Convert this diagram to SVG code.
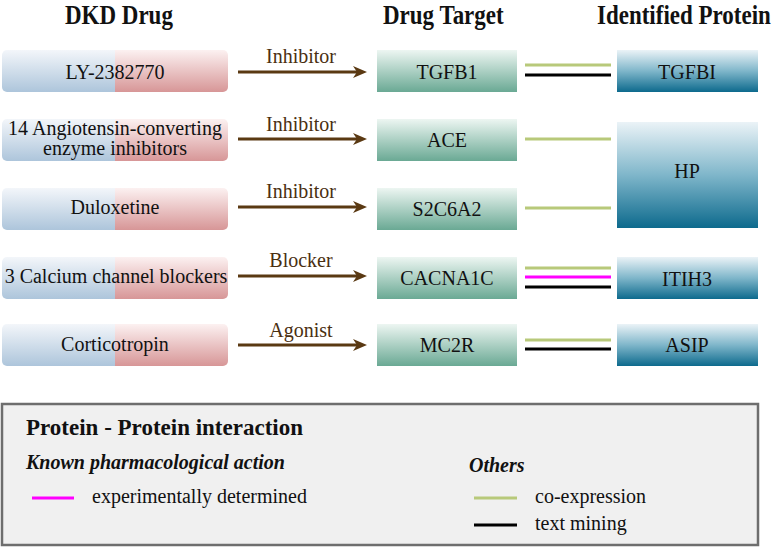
<svg xmlns="http://www.w3.org/2000/svg" width="777" height="548" viewBox="0 0 777 548">
<defs>
<linearGradient id="gBlue" x1="0" y1="0" x2="0" y2="1"><stop offset="0" stop-color="#f3f6fa"/><stop offset="1" stop-color="#adc5db"/></linearGradient>
<linearGradient id="gRed" x1="0" y1="0" x2="0" y2="1"><stop offset="0" stop-color="#fcf1f1"/><stop offset="1" stop-color="#d79697"/></linearGradient>
<linearGradient id="gTarget" x1="0" y1="0" x2="0" y2="1"><stop offset="0" stop-color="#edf6f2"/><stop offset="1" stop-color="#6aa994"/></linearGradient>
<linearGradient id="gProt" x1="0" y1="0" x2="0" y2="1"><stop offset="0" stop-color="#ebf3f7"/><stop offset="0.5" stop-color="#7fb6ca"/><stop offset="1" stop-color="#0d6a8d"/></linearGradient>
<clipPath id="rr" clipPathUnits="objectBoundingBox"><rect x="0" y="0" width="1" height="1" rx="0.022" ry="0.12"/></clipPath>
<marker id="ah" viewBox="0 0 14 12" refX="4" refY="6" markerWidth="14" markerHeight="12" markerUnits="userSpaceOnUse" orient="auto"><path d="M0,0 L14,6 L0,12 L4,6 Z" fill="#5a3912"/></marker>
</defs>
<style>
text{font-family:Liberation Serif,Tinos,DejaVu Serif,Noto Serif,serif;fill:#111}
.t{font-size:20px;text-anchor:middle}
.hd{font-size:23px;font-weight:bold}
.lab{font-size:20px;text-anchor:middle;fill:#4a2f10}
.arr{stroke:#5a3912;stroke-width:3;fill:none;marker-end:url(#ah)}
.co{stroke:#b8c97a;stroke-width:3}
.tm{stroke:#000;stroke-width:3}
.ex{stroke:#ff00ff;stroke-width:3}
.tg{fill:url(#gTarget)}
.pr{fill:url(#gProt)}
</style>
<rect width="777" height="548" fill="#fff"/>
<g id="headers" transform="translate(0 24) scale(1 1.2)">
<text class="hd" x="65" y="0">DKD Drug</text>
<text class="hd" x="383" y="0">Drug Target</text>
<text class="hd" x="597" y="0">Identified Protein</text>
</g>
<g id="drug1"><g clip-path="url(#rr)"><rect x="2" y="50" width="113" height="42" fill="url(#gBlue)"/><rect x="115" y="50" width="113" height="42" fill="url(#gRed)"/></g><text class="t" x="115" y="79">LY-2382770</text></g>
<g id="drug2"><g clip-path="url(#rr)"><rect x="2" y="119" width="113" height="42" fill="url(#gBlue)"/><rect x="115" y="119" width="113" height="42" fill="url(#gRed)"/></g><text class="t" x="115" y="135">14 Angiotensin-converting</text><text class="t" x="115" y="155">enzyme inhibitors</text></g>
<g id="drug3"><g clip-path="url(#rr)"><rect x="2" y="188" width="113" height="42" fill="url(#gBlue)"/><rect x="115" y="188" width="113" height="42" fill="url(#gRed)"/></g><text class="t" x="115" y="214">Duloxetine</text></g>
<g id="drug4"><g clip-path="url(#rr)"><rect x="2" y="257" width="113" height="42" fill="url(#gBlue)"/><rect x="115" y="257" width="113" height="42" fill="url(#gRed)"/></g><text class="t" x="116" y="283">3 Calcium channel blockers</text></g>
<g id="drug5"><g clip-path="url(#rr)"><rect x="2" y="324" width="113" height="42" fill="url(#gBlue)"/><rect x="115" y="324" width="113" height="42" fill="url(#gRed)"/></g><text class="t" x="115" y="351">Corticotropin</text></g>
<g id="target1"><rect class="tg" x="377" y="50" width="140" height="42"/><text class="t" x="447" y="79">TGFB1</text></g>
<g id="target2"><rect class="tg" x="377" y="119" width="140" height="42"/><text class="t" x="447" y="147">ACE</text></g>
<g id="target3"><rect class="tg" x="377" y="188" width="140" height="42"/><text class="t" x="447" y="216">S2C6A2</text></g>
<g id="target4"><rect class="tg" x="377" y="257" width="140" height="42"/><text class="t" x="447" y="285">CACNA1C</text></g>
<g id="target5"><rect class="tg" x="377" y="324" width="140" height="42"/><text class="t" x="447" y="352">MC2R</text></g>
<g id="protTGFBI"><rect class="pr" x="617" y="50" width="141" height="42"/><text class="t" x="687" y="79">TGFBI</text></g>
<g id="protHP"><rect class="pr" x="617" y="122" width="141" height="106"/><text class="t" x="687" y="178">HP</text></g>
<g id="protITIH3"><rect class="pr" x="617" y="257" width="141" height="42"/><text class="t" x="687" y="286">ITIH3</text></g>
<g id="protASIP"><rect class="pr" x="617" y="324" width="141" height="42"/><text class="t" x="687" y="352">ASIP</text></g>
<g id="connectors">
<line class="arr" x1="238" y1="72" x2="357" y2="72"/>
<line class="arr" x1="238" y1="139" x2="357" y2="139"/>
<line class="arr" x1="238" y1="207" x2="357" y2="207"/>
<line class="arr" x1="238" y1="276" x2="357" y2="276"/>
<line class="arr" x1="238" y1="345" x2="357" y2="345"/>
<text class="lab" x="301" y="63">Inhibitor</text>
<text class="lab" x="301" y="131">Inhibitor</text>
<text class="lab" x="301" y="198">Inhibitor</text>
<text class="lab" x="301" y="267">Blocker</text>
<text class="lab" x="301" y="337">Agonist</text>
<line class="co" x1="525" y1="65" x2="611" y2="65"/>
<line class="tm" x1="525" y1="75" x2="611" y2="75"/>
<line class="co" x1="525" y1="139" x2="611" y2="139"/>
<line class="co" x1="525" y1="208" x2="611" y2="208"/>
<line class="co" x1="525" y1="268" x2="611" y2="268"/>
<line class="ex" x1="525" y1="277" x2="611" y2="277"/>
<line class="tm" x1="525" y1="287" x2="611" y2="287"/>
<line class="co" x1="525" y1="340" x2="611" y2="340"/>
<line class="tm" x1="525" y1="349" x2="611" y2="349"/>
</g>
<g id="legend">
<rect x="2" y="404" width="756" height="141" fill="#f0f0f0" stroke="#6e6e6e" stroke-width="2.5"/>
<text x="26" y="435" font-size="23" font-weight="bold">Protein - Protein interaction</text>
<text x="26" y="469" font-size="20" font-weight="bold" font-style="italic">Known pharmacological action</text>
<line class="ex" x1="32" y1="498" x2="74" y2="498"/>
<text x="92" y="503" font-size="20">experimentally determined</text>
<text x="469" y="472" font-size="20" font-weight="bold" font-style="italic">Others</text>
<line class="co" x1="474" y1="498" x2="517" y2="498"/>
<text x="535" y="503" font-size="20">co-expression</text>
<line class="tm" x1="474" y1="525" x2="517" y2="525"/>
<text x="535" y="530" font-size="20">text mining</text>
</g>
</svg>
